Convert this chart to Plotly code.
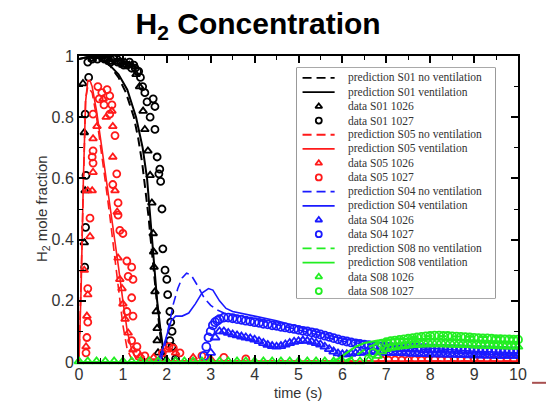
import plotly.graph_objects as go

# ---------------- data ----------------
# S01 (black)
s01_nv_t = [0.0, 0.3, 0.5, 0.7, 0.9, 1.07, 1.25, 1.35, 1.44, 1.52, 1.58, 1.64, 1.7, 1.76, 1.84, 1.91, 1.96, 2.1, 10.0]
s01_nv_y = [0.99, 1.0, 0.99, 0.97, 0.93, 0.88, 0.8, 0.73, 0.65, 0.56, 0.48, 0.39, 0.3, 0.2, 0.1, 0.03, 0.005, 0.0, 0.0]
s01_v_t = [0.0, 0.3, 0.5, 0.7, 0.9, 1.1, 1.3, 1.45, 1.55, 1.61, 1.67, 1.72, 1.78, 1.86, 1.93, 1.98, 2.1, 10.0]
s01_v_y = [0.99, 1.0, 0.99, 0.97, 0.94, 0.89, 0.8, 0.7, 0.6, 0.5, 0.4, 0.3, 0.2, 0.1, 0.03, 0.005, 0.0, 0.0]
s01_1026_t = [0.09, 0.12, 0.14, 0.12, 0.3, 0.4, 0.45, 0.55, 0.6, 0.7, 0.75, 0.85, 0.9, 1.0, 1.05, 1.15, 1.2, 1.3,
              1.38, 1.46, 1.5, 1.57, 1.62, 1.66, 1.69, 1.7, 1.71, 1.73, 1.76, 1.78, 1.78, 1.8, 1.85, 2.0, 2.2]
s01_1026_y = [0.91, 0.75, 0.56, 0.39, 0.99, 1.0, 1.0, 0.99, 1.0, 0.98, 0.99, 0.98, 0.99, 0.97, 0.98, 0.97, 0.97, 0.94,
              0.9, 0.82, 0.76, 0.69, 0.61, 0.52, 0.42, 0.36, 0.31, 0.23, 0.165, 0.11, 0.07, 0.03, 0.01, 0.005, 0.005]
s01_1027_t = [0.2, 0.22, 0.14, 0.16, 0.15, 0.13, 0.3, 0.35, 0.42, 0.5, 0.58, 0.65, 0.72, 0.8, 0.88, 0.95, 1.02, 1.1,
              1.15, 1.2, 1.25, 1.28, 1.33, 1.36, 1.4, 1.45, 1.5, 1.55, 1.69, 1.73, 1.62, 1.73, 1.78, 1.84, 1.82, 1.86,
              1.89, 1.91, 1.96, 2.0, 2.02, 2.07, 2.09, 2.12, 2.07, 2.12, 2.2]
s01_1027_y = [0.98, 0.93, 0.81, 0.61, 0.44, 0.31, 0.99, 1.0, 0.99, 1.0, 0.99, 0.99, 0.98, 0.99, 0.98, 0.98, 0.97, 0.97,
              0.98, 0.96, 0.97, 0.96, 0.95, 0.95, 0.93, 0.9, 0.88, 0.85, 0.86, 0.835, 0.8, 0.76, 0.67, 0.63, 0.615, 0.59,
              0.5, 0.37, 0.3, 0.27, 0.22, 0.165, 0.13, 0.1, 0.07, 0.05, 0.01]

# S05 (red)
s05_nv_t = [0.0, 0.05, 0.1, 0.15, 0.2, 0.3, 0.4, 0.5, 0.6, 0.7, 0.8, 0.9, 1.0, 1.1, 1.2, 1.4, 10.0]
s05_nv_y = [0.0, 0.3, 0.65, 0.86, 0.9, 0.88, 0.8, 0.7, 0.59, 0.48, 0.36, 0.24, 0.12, 0.04, 0.01, 0.003, 0.003]
s05_v_t = [0.0, 0.05, 0.1, 0.15, 0.2, 0.25, 0.3, 0.4, 0.5, 0.6, 0.7, 0.8, 0.9, 1.0, 1.1, 1.2, 1.3, 1.5, 10.0]
s05_v_y = [0.0, 0.25, 0.6, 0.85, 0.92, 0.92, 0.9, 0.82, 0.72, 0.62, 0.52, 0.42, 0.31, 0.2, 0.1, 0.04, 0.01, 0.003, 0.003]
s05_1026_t = [0.75, 0.41, 0.77, 0.32, 0.77, 0.32, 0.3, 0.82, 0.2, 0.25, 0.2, 0.18, 0.16, 0.87, 0.89, 0.93, 0.98, 1.0,
              1.05, 1.12, 1.23, 0.55, 0.62, 0.12, 1.4, 1.7, 2.0, 2.2, 2.6, 3.0]
s05_1026_y = [0.82, 0.77, 0.77, 0.73, 0.67, 0.62, 0.56, 0.56, 0.56, 0.41, 0.22, 0.15, 0.05, 0.49, 0.34, 0.27, 0.24, 0.19,
              0.14, 0.095, 0.04, 0.86, 0.8, 0.3, 0.02, 0.015, 0.04, 0.03, 0.015, 0.01]
s05_1027_t = [0.43, 0.52, 0.64, 0.7, 0.46, 0.57, 0.75, 0.32, 0.7, 0.82, 0.32, 0.3, 0.32, 0.86, 0.77, 0.25, 0.2, 0.2,
              0.18, 0.16, 0.89, 0.89, 0.93, 1.0, 1.09, 1.2, 1.12, 1.23, 1.2, 1.09, 1.23, 1.2, 1.32, 1.32, 1.5, 1.9,
              2.05, 2.15, 2.3, 2.8, 3.3, 3.8,
              6.9, 7.05, 7.2, 7.35, 7.5, 7.65, 7.8, 7.95, 8.1, 8.25, 8.4, 8.55, 8.7, 8.85, 9.0, 9.15, 9.3, 9.45, 9.6,
              9.75, 9.9]
s05_1027_y = [0.9, 0.88, 0.89, 0.87, 0.86, 0.84, 0.84, 0.81, 0.81, 0.74, 0.69, 0.67, 0.65, 0.615, 0.58, 0.47, 0.24, 0.13,
              0.08, 0.03, 0.52, 0.48, 0.43, 0.42, 0.33, 0.31, 0.28, 0.27, 0.21, 0.165, 0.15, 0.07, 0.05, 0.03, 0.02, 0.03,
              0.05, 0.045, 0.03, 0.02, 0.015, 0.01,
              0.006, 0.006, 0.007, 0.006, 0.006, 0.007, 0.006, 0.006, 0.007, 0.006, 0.006, 0.007, 0.006, 0.006, 0.007,
              0.006, 0.006, 0.007, 0.006, 0.006, 0.006]

# S04 (blue)
s04_nv_t = [0.0, 1.85, 1.95, 2.05, 2.15, 2.25, 2.35, 2.45, 2.55, 2.7, 2.85, 3.0, 3.15, 3.3, 4.0, 5.0, 6.0, 7.0, 8.0, 9.0, 10.0]
s04_nv_y = [0.0, 0.0, 0.05, 0.12, 0.19, 0.24, 0.275, 0.29, 0.285, 0.25, 0.21, 0.185, 0.17, 0.16, 0.14, 0.105, 0.068, 0.05, 0.04, 0.03, 0.025]
s04_v_t = [0.0, 1.8, 1.9, 2.0, 2.1, 2.2, 2.35, 2.5, 2.65, 2.8, 2.95, 3.05, 3.2, 3.35, 3.5, 4.0, 4.5, 5.0, 5.5, 6.0, 7.0, 8.0, 9.0, 10.0]
s04_v_y = [0.0, 0.0, 0.04, 0.09, 0.135, 0.15, 0.15, 0.16, 0.19, 0.225, 0.24, 0.235, 0.2, 0.175, 0.165, 0.15, 0.135, 0.115, 0.095, 0.075, 0.058, 0.045, 0.035, 0.03]
s04_1026_t = [3.0, 3.1, 3.2, 3.3, 3.4, 3.5, 3.6, 3.7, 3.8, 3.9, 4.0, 4.1, 4.2, 4.3, 4.4, 4.5, 4.6, 4.7, 4.8, 4.9,
              5.0, 5.1, 5.2, 5.3, 5.4, 5.5, 5.6, 5.7, 5.8, 5.9, 6.0, 6.1, 6.2, 6.3, 6.4, 6.5, 6.6, 6.7, 6.8, 6.9,
              7.0, 7.1, 7.2, 7.3, 7.4, 7.5, 7.6, 7.7, 7.8, 7.9, 8.0, 8.1, 8.2, 8.3, 8.4, 8.5, 8.6, 8.7, 8.8, 8.9,
              9.0, 9.1, 9.2, 9.3, 9.4, 9.5, 9.6, 9.7, 9.8, 9.9, 10.0]
s04_1026_y = [0.03, 0.08, 0.1, 0.1, 0.095, 0.09, 0.087, 0.083, 0.08, 0.077, 0.073, 0.068, 0.062, 0.056, 0.052, 0.05, 0.052, 0.057, 0.062, 0.066,
              0.068, 0.07, 0.069, 0.066, 0.062, 0.057, 0.05, 0.042, 0.034, 0.028, 0.025, 0.025, 0.027, 0.029, 0.03, 0.031, 0.032, 0.032, 0.032, 0.031,
              0.03, 0.03, 0.029, 0.029, 0.028, 0.028, 0.027, 0.027, 0.026, 0.026, 0.025, 0.025, 0.025, 0.024, 0.024, 0.024, 0.023, 0.023, 0.023, 0.022,
              0.022, 0.022, 0.021, 0.021, 0.021, 0.02, 0.02, 0.02, 0.02, 0.02, 0.02]
s04_1027_t = [2.85, 2.9, 2.95, 3.0, 3.05, 3.1, 3.15, 3.2, 3.3, 3.4, 3.5, 3.6, 3.7, 3.8, 3.9, 4.0, 4.1, 4.2, 4.3, 4.4,
              4.5, 4.6, 4.7, 4.8, 4.9, 5.0, 5.1, 5.2, 5.3, 5.4, 5.5, 5.6, 5.7, 5.8, 5.9, 6.0, 6.1, 6.2, 6.3, 6.4,
              6.5, 6.6, 6.7, 6.8, 6.9, 7.0, 7.1, 7.2, 7.3, 7.4, 7.5, 7.6, 7.7, 7.8, 7.9, 8.0, 8.1, 8.2, 8.3, 8.4,
              8.5, 8.6, 8.7, 8.8, 8.9, 9.0, 9.1, 9.2, 9.3, 9.4, 9.5, 9.6, 9.7, 9.8, 9.9, 10.0]
s04_1027_y = [0.02, 0.05, 0.08, 0.1, 0.12, 0.13, 0.135, 0.14, 0.145, 0.145, 0.143, 0.14, 0.138, 0.135, 0.133, 0.13, 0.128, 0.125, 0.123, 0.12,
              0.118, 0.115, 0.113, 0.11, 0.108, 0.105, 0.102, 0.1, 0.097, 0.094, 0.09, 0.086, 0.082, 0.078, 0.074, 0.07, 0.067, 0.064, 0.061, 0.059,
              0.057, 0.055, 0.053, 0.052, 0.051, 0.05, 0.049, 0.048, 0.048, 0.047, 0.047, 0.046, 0.046, 0.045, 0.045, 0.044, 0.044, 0.043, 0.043, 0.042,
              0.042, 0.041, 0.041, 0.04, 0.04, 0.039, 0.039, 0.038, 0.038, 0.037, 0.037, 0.036, 0.036, 0.035, 0.035, 0.035]

# S08 (green)
s08_nv_t = [0.0, 6.0, 6.3, 6.6, 7.0, 7.5, 8.0, 9.0, 10.0]
s08_nv_y = [0.0, 0.0, 0.02, 0.05, 0.07, 0.08, 0.085, 0.082, 0.08]
s08_v_t = [0.0, 5.7, 5.9, 6.1, 6.3, 6.5, 6.8, 7.2, 8.0, 9.0, 10.0]
s08_v_y = [0.0, 0.0, 0.01, 0.03, 0.05, 0.062, 0.07, 0.075, 0.075, 0.07, 0.065]
s08_1026_t = [0.0, 0.2, 0.4, 0.6, 0.8, 1.0, 1.2, 1.4, 1.6, 1.8, 2.0, 2.2, 2.4, 2.6, 2.8, 3.0, 3.2, 3.4, 3.6, 3.8,
              4.0, 4.2, 4.4, 4.6, 4.8, 5.0, 5.2, 5.4, 5.6, 5.8, 6.0, 6.2, 6.4, 6.6,
              6.8, 6.9, 7.0, 7.1, 7.2, 7.3, 7.4, 7.5, 7.6, 7.7, 7.8, 7.9, 8.0, 8.1, 8.2, 8.3, 8.4, 8.5, 8.6, 8.7,
              8.8, 8.9, 9.0, 9.1, 9.2, 9.3, 9.4, 9.5, 9.6, 9.7, 9.8, 9.9, 10.0]
s08_1026_y = [0.002, 0.002, 0.002, 0.002, 0.002, 0.002, 0.002, 0.002, 0.002, 0.002, 0.002, 0.002, 0.002, 0.002, 0.002, 0.002, 0.002, 0.002, 0.002, 0.002,
              0.002, 0.002, 0.002, 0.002, 0.002, 0.002, 0.002, 0.002, 0.002, 0.002, 0.002, 0.002, 0.002, 0.005,
              0.02, 0.035, 0.042, 0.046, 0.048, 0.05, 0.052, 0.054, 0.055, 0.056, 0.057, 0.058, 0.058, 0.058, 0.058, 0.058, 0.057, 0.057, 0.056, 0.056,
              0.055, 0.055, 0.054, 0.054, 0.053, 0.053, 0.052, 0.052, 0.051, 0.051, 0.05, 0.05, 0.05]
s08_1027_t = [6.6, 6.7, 6.8, 6.9, 7.0, 7.1, 7.2, 7.3, 7.4, 7.5, 7.6, 7.7, 7.8, 7.9, 8.0, 8.1, 8.2, 8.3, 8.4, 8.5,
              8.6, 8.7, 8.8, 8.9, 9.0, 9.1, 9.2, 9.3, 9.4, 9.5, 9.6, 9.7, 9.8, 9.9, 10.0]
s08_1027_y = [0.01, 0.03, 0.05, 0.06, 0.065, 0.068, 0.07, 0.072, 0.074, 0.076, 0.078, 0.08, 0.082, 0.084, 0.085, 0.086, 0.086, 0.085, 0.085, 0.084,
              0.083, 0.082, 0.081, 0.08, 0.079, 0.078, 0.077, 0.077, 0.076, 0.075, 0.075, 0.074, 0.074, 0.073, 0.073]

legend_labels = [
    "prediction S01 no ventilation", "prediction S01 ventilation", "data S01 1026", "data S01 1027",
    "prediction S05 no ventilation", "prediction S05 ventilation", "data S05 1026", "data S05 1027",
    "prediction S04 no ventilation", "prediction S04 ventilation", "data S04 1026", "data S04 1027",
    "prediction S08 no ventilation", "prediction S08 ventilation", "data S08 1026", "data S08 1027",
]
x_ticks = [0, 1, 2, 3, 4, 5, 6, 7, 8, 9, 10]
y_ticks = [0, 0.2, 0.4, 0.6, 0.8, 1.0]
y_ticktext = ["0", "0.2", "0.4", "0.6", "0.8", "1"]

# ---------------- figure ----------------
BLACK, RED, BLUE, GREEN = "#000000", "#ff1a1a", "#1a1aff", "#22ee22"
DASH = "9px,5px"

groups = [
    (BLACK, (s01_nv_t, s01_nv_y), (s01_v_t, s01_v_y), (s01_1026_t, s01_1026_y), (s01_1027_t, s01_1027_y), 2.0, 7),
    (RED, (s05_nv_t, s05_nv_y), (s05_v_t, s05_v_y), (s05_1026_t, s05_1026_y), (s05_1027_t, s05_1027_y), 1.6, 7),
    (BLUE, (s04_nv_t, s04_nv_y), (s04_v_t, s04_v_y), (s04_1026_t, s04_1026_y), (s04_1027_t, s04_1027_y), 1.6, 8),
    (GREEN, (s08_nv_t, s08_nv_y), (s08_v_t, s08_v_y), (s08_1026_t, s08_1026_y), (s08_1027_t, s08_1027_y), 2.2, 8),
]

fig = go.Figure()
for color, nv, v, d26, d27, lw, ms in groups:
    clip = color != GREEN
    fig.add_trace(go.Scatter(x=d26[0], y=d26[1], mode="markers", cliponaxis=clip,
                             marker=dict(symbol="triangle-up-open", size=ms, color=color, line=dict(width=1.8, color=color)),
                             showlegend=False))
    fig.add_trace(go.Scatter(x=d27[0], y=d27[1], mode="markers", cliponaxis=clip,
                             marker=dict(symbol="circle-open", size=ms, color=color, line=dict(width=1.8, color=color)),
                             showlegend=False))
    fig.add_trace(go.Scatter(x=nv[0], y=nv[1], mode="lines", line=dict(color=color, width=lw, dash=DASH),
                             showlegend=False))
    fig.add_trace(go.Scatter(x=v[0], y=v[1], mode="lines", line=dict(color=color, width=lw),
                             showlegend=False))

# ---- legend drawn on an auxiliary axis pair ----
for i, label in enumerate(legend_labels):
    color = groups[i // 4][0]
    kind = i % 4
    if kind < 2:
        fig.add_trace(go.Scatter(x=[0.028, 0.19], y=[i, i], mode="lines", xaxis="x2", yaxis="y2",
                                 line=dict(color=color, width=1.8, dash=DASH if kind == 0 else "solid"),
                                 showlegend=False, hoverinfo="skip"))
    else:
        fig.add_trace(go.Scatter(x=[0.11], y=[i], mode="markers", xaxis="x2", yaxis="y2",
                                 marker=dict(symbol="triangle-up-open" if kind == 2 else "circle-open", size=6,
                                             color=color, line=dict(width=1.8, color=color)),
                                 showlegend=False, hoverinfo="skip"))
    fig.add_annotation(x=0.245, y=i, xref="x2", yref="y2", text=label, showarrow=False, xanchor="left",
                       yanchor="middle", font=dict(family="Liberation Serif, Times New Roman, serif", size=11.5,
                                                   color="#333333"))

fig.add_shape(type="rect", xref="x2 domain", yref="y2 domain", x0=0, x1=1, y0=0, y1=1,
              line=dict(color="#555555", width=1.2), fillcolor="white", layer="below")

axis_font = dict(family="Arial, Liberation Sans, sans-serif", size=16, color="#333333")
# the page adds an 8 px body margin, so the figure is laid out 8 px up/left of the target positions
fig.update_layout(
    width=554, height=401,
    margin=dict(l=71, r=44, t=48, b=47),
    paper_bgcolor="white", plot_bgcolor="white",
    showlegend=False,
    title=dict(text="<b>H<sub>2</sub> Concentration</b>", x=0.408, xanchor="center", xref="paper",
               y=0.962, yanchor="middle", yref="container",
               font=dict(family="Arial, Liberation Sans, sans-serif", size=30, color="#000000")),
    xaxis=dict(range=[0, 10], tickvals=x_ticks, ticks="inside", ticklen=7, tickwidth=1.5, tickcolor="black",
               minor=dict(dtick=0.5, ticks="inside", ticklen=4, tickwidth=1.2, tickcolor="black"),
               showline=True, linewidth=2, linecolor="black", mirror="ticks", showgrid=False, zeroline=False,
               tickfont=axis_font, ticklabelstandoff=-3),
    yaxis=dict(range=[0, 1], tickvals=y_ticks, ticktext=y_ticktext, ticks="inside", ticklen=7, tickwidth=1.5,
               tickcolor="black",
               minor=dict(dtick=0.1, ticks="inside", ticklen=4, tickwidth=1.2, tickcolor="black"),
               showline=True, linewidth=2, linecolor="black", mirror="ticks", showgrid=False, zeroline=False,
               tickfont=axis_font),
    xaxis2=dict(domain=[0.4966, 0.9476], range=[0, 1], visible=False, anchor="y2", fixedrange=True),
    yaxis2=dict(domain=[0.2092, 0.9608], range=[15.49, -0.70], visible=False, anchor="x2", fixedrange=True),
)

fig.add_annotation(text="time (s)", xref="paper", yref="paper", x=0.499, y=-0.1, showarrow=False,
                   xanchor="center", yanchor="middle",
                   font=dict(family="Arial, Liberation Sans, sans-serif", size=14.5, color="#333333"))
fig.add_annotation(text="H<sub>2</sub> mole fraction", xref="paper", yref="paper", x=-0.084, y=0.5,
                   showarrow=False, textangle=-90, xanchor="center", yanchor="middle",
                   font=dict(family="Arial, Liberation Sans, sans-serif", size=15, color="#333333"))

# slide decoration at the lower right
fig.add_shape(type="line", xref="paper", yref="paper", x0=1.032, x1=1.09, y0=-0.068, y1=-0.068,
              line=dict(color="#a85050", width=2))

fig.write_html("out.html")
